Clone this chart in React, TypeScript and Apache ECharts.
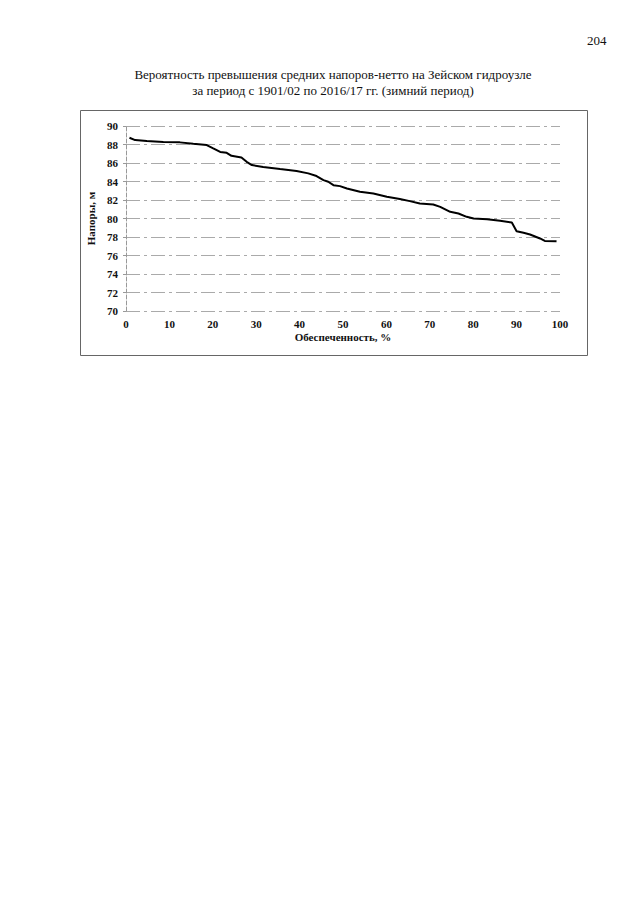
import React, { useEffect, useRef } from "react";
import * as echarts from "echarts";

const titleLines = [
  "Вероятность превышения средних напоров-нетто на Зейском гидроузле",
  "за период с 1901/02 по 2016/17 гг. (зимний период)",
];
const pageNumber = "204";
const xAxisName = "Обеспеченность, %";
const yAxisName = "Напоры, м";

const probability = [
  0.8, 2.1, 4.8, 8.6, 12.4, 15.5, 18.6, 20.1, 21.7, 23.2, 24.3, 26.6, 27.8, 29.0,
  31.6, 35.5, 39.3, 42.0, 43.9, 45.5, 46.6, 47.8, 49.3, 50.9, 53.9, 57.0, 60.1,
  63.1, 65.4, 67.7, 70.8, 72.4, 74.7, 76.6, 78.5, 80.1, 83.2, 86.2, 88.9, 90.0,
  91.6, 93.1, 95.4, 96.5, 99.2,
];
const head = [
  88.73, 88.48, 88.37, 88.27, 88.23, 88.08, 87.94, 87.58, 87.2, 87.1, 86.78, 86.6,
  86.13, 85.78, 85.56, 85.34, 85.13, 84.88, 84.59, 84.15, 83.97, 83.6, 83.5, 83.25,
  82.89, 82.71, 82.35, 82.1, 81.88, 81.63, 81.52, 81.26, 80.72, 80.54, 80.18, 80.0,
  79.93, 79.75, 79.57, 78.63, 78.45, 78.27, 77.84, 77.58, 77.55,
];

const FONT = "'Liberation Serif', 'Times New Roman', serif";

export default function App() {
  const ref = useRef<HTMLDivElement>(null);
  useEffect(() => {
    document.body.style.margin = "0";
    const chart = echarts.init(ref.current!, null, { renderer: "svg" });
    const data = probability.map((p, i) => [p, head[i]]);
    chart.setOption({
      animation: false,
      backgroundColor: "#ffffff",
      textStyle: { fontFamily: FONT },
      grid: { left: 126, right: 80, top: 126, bottom: 594, containLabel: false },
      xAxis: {
        type: "value",
        min: 0,
        max: 100,
        interval: 10,
        name: xAxisName,
        nameLocation: "middle",
        nameGap: 20,
        nameTextStyle: { fontFamily: FONT, fontWeight: "bold", fontSize: 11, color: "#111" },
        axisLine: { show: false },
        axisTick: { show: false },
        splitLine: { show: false },
        axisLabel: { fontFamily: FONT, fontWeight: "bold", fontSize: 11, color: "#111", margin: 7 },
      },
      yAxis: {
        type: "value",
        min: 70,
        max: 90,
        interval: 2,
        name: yAxisName,
        nameLocation: "middle",
        nameGap: 30,
        nameTextStyle: { fontFamily: FONT, fontWeight: "bold", fontSize: 11, color: "#111" },
        axisLine: { show: true, lineStyle: { color: "#999", type: "dashed", width: 1 } },
        axisTick: { show: true, length: 3, lineStyle: { color: "#999" } },
        axisLabel: { fontFamily: FONT, fontWeight: "bold", fontSize: 11, color: "#111", margin: 8 },
        splitLine: { show: true, lineStyle: { color: "#aaa", type: [14, 4, 3, 4], width: 1 } },
      },
      graphic: [
        {
          type: "text",
          left: 587,
          top: 34,
          style: { text: pageNumber, font: `13px ${FONT}`, fill: "#111" },
        },
        {
          type: "text",
          x: 333,
          y: 66,
          style: {
            text: titleLines.join("\n"),
            font: `13px ${FONT}`,
            fill: "#111",
            align: "center",
            lineHeight: 16,
          },
        },
        {
          type: "rect",
          shape: { x: 80.5, y: 110.5, width: 507, height: 245 },
          style: { fill: "none", stroke: "#666", lineWidth: 1 },
          z: -1,
        },
      ],
      series: [
        {
          type: "line",
          data,
          showSymbol: false,
          symbol: "none",
          lineStyle: { color: "#000", width: 2 },
        },
      ],
    });
    return () => chart.dispose();
  }, []);
  return <div ref={ref} style={{ width: 640, height: 905 }} />;
}
